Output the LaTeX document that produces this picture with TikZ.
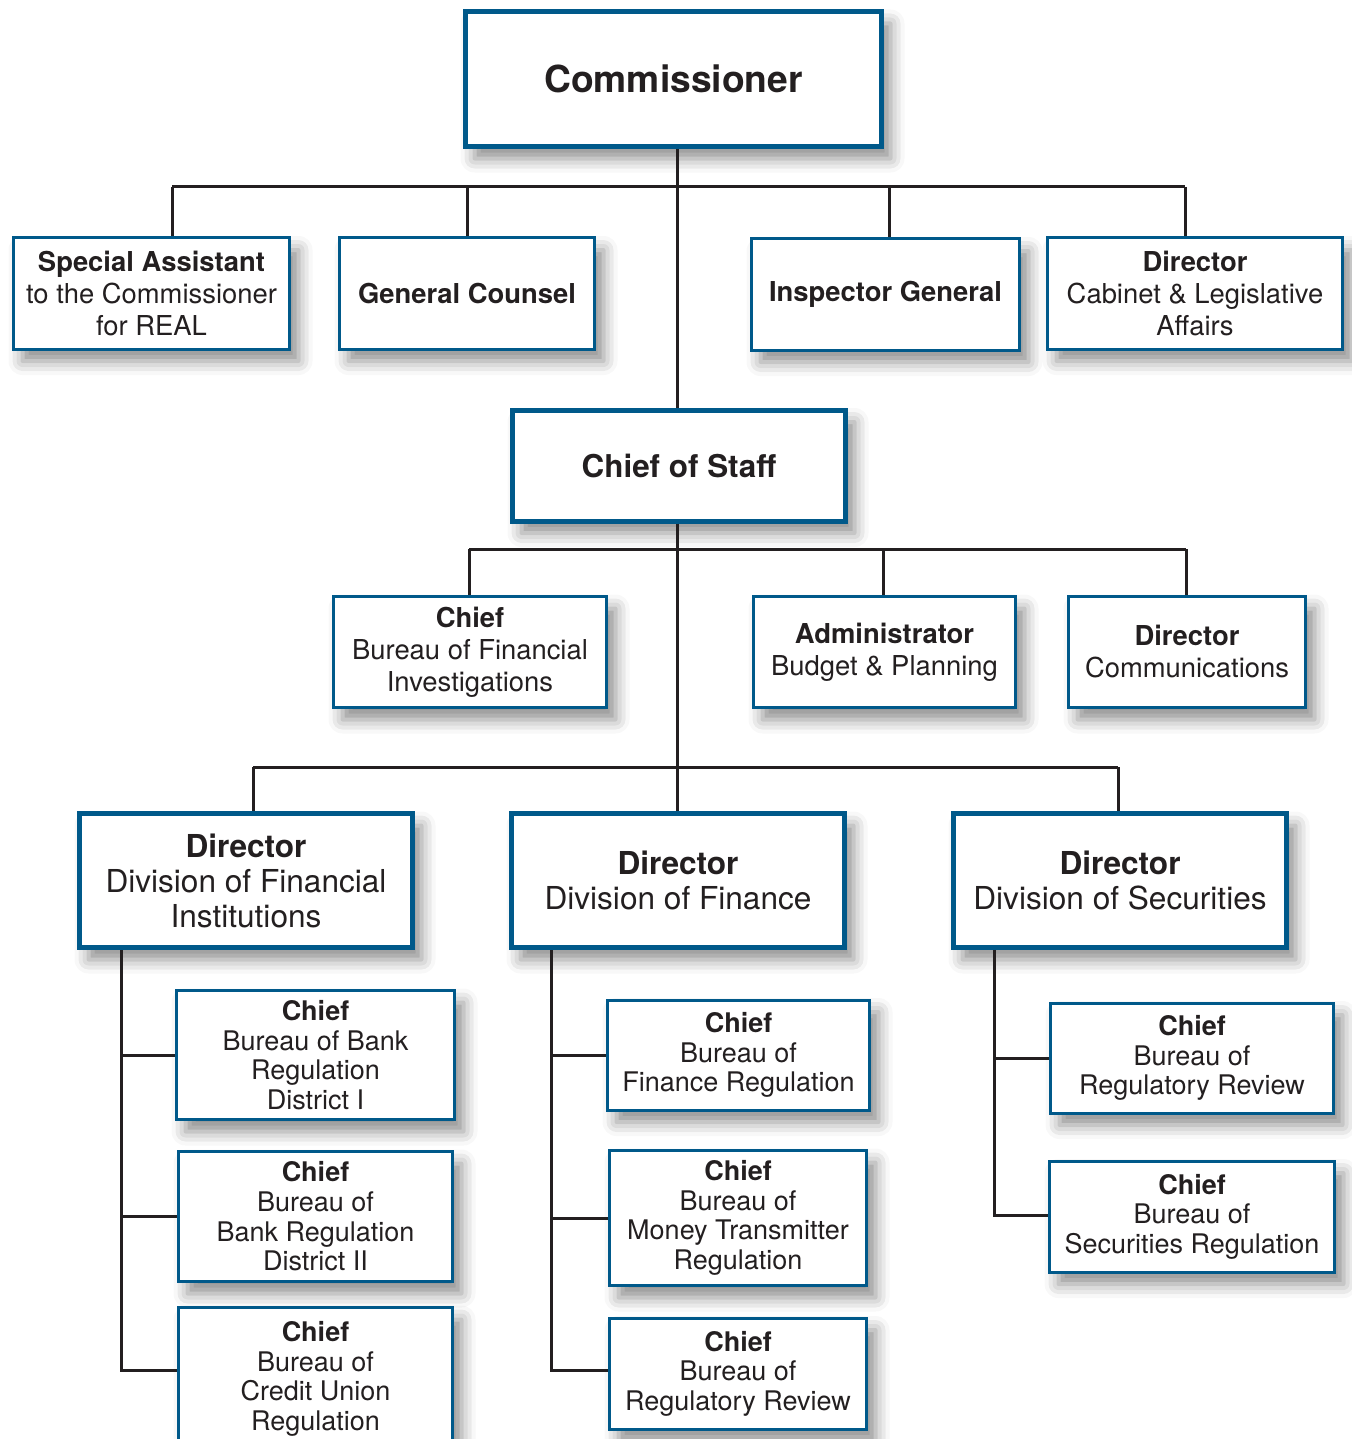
\documentclass[tikz,border=0pt]{standalone}
\usepackage{fontspec}
\setmainfont{TeX Gyre Heros}
\usetikzlibrary{shadows.blur}
\definecolor{orgblue}{HTML}{00598A}
\definecolor{orgink}{HTML}{231F20}
\newcommand{\topfont}{\fontsize{18.6}{22}\selectfont\bfseries}
\newcommand{\stafffont}{\fontsize{15.7}{19}\selectfont\bfseries}
\newcommand{\divfont}{\fontsize{15.8}{17.5}\selectfont}
\newcommand{\unitfont}{\fontsize{13.7}{16}\selectfont}
\newcommand{\subfont}{\fontsize{13.5}{14.8}\selectfont}
\begin{document}
\begin{tikzpicture}[x=0.5pt,y=-0.5pt,
  orgbox/.style={draw=orgblue, line width=1.5pt, fill=white, text=orgink,
    align=center, inner sep=0pt,
    blur shadow={shadow xshift=4.5pt, shadow yshift=-6pt, shadow blur radius=7pt, shadow opacity=45}},
  headbox/.style={orgbox, line width=2.5pt},
  link/.style={draw=orgink, line width=1.5pt}]
\useasboundingbox (0,0) rectangle (1352,1439);

% top level
\node[headbox, minimum width=208pt, minimum height=67.5pt, font=\topfont] (com) at (673.5,79) {Commissioner};
\node[orgbox, minimum width=138pt, minimum height=55.5pt, font=\unitfont] (spa) at (151.5,293.5) {\textbf{Special Assistant}\\to the Commissioner\\for REAL};
\node[orgbox, minimum width=127.5pt, minimum height=55.5pt, font=\unitfont] (gc) at (467,293.5) {\textbf{General Counsel}};
\node[orgbox, minimum width=134pt, minimum height=55.5pt, font=\unitfont] (ig) at (885.5,294.5) {\textbf{Inspector General}};
\node[orgbox, minimum width=147.5pt, minimum height=55.5pt, font=\unitfont] (dcl) at (1195,293.5) {\textbf{Director}\\Cabinet \& Legislative\\Affairs};

% chief of staff
\node[headbox, minimum width=166.5pt, minimum height=55.5pt, font=\stafffont] (cos) at (679,465.5) {Chief of Staff};
\node[orgbox, minimum width=136.5pt, minimum height=55.5pt, font=\unitfont] (bfi) at (470,652) {\textbf{Chief}\\Bureau of Financial\\Investigations};
\node[orgbox, minimum width=131pt, minimum height=55.5pt, font=\unitfont] (abp) at (884.5,652) {\textbf{Administrator}\\Budget \& Planning};
\node[orgbox, minimum width=118.5pt, minimum height=55.5pt, font=\unitfont] (dcm) at (1187,652) {\textbf{Director}\\Communications};

% divisions
\node[headbox, minimum width=166.5pt, minimum height=67pt, font=\divfont] (dfi) at (246,880.5) {\textbf{Director}\\Division of Financial\\Institutions};
\node[headbox, minimum width=166.5pt, minimum height=67pt, font=\divfont] (dfn) at (678,880.5) {\textbf{Director}\\Division of Finance};
\node[headbox, minimum width=166.5pt, minimum height=67pt, font=\divfont] (dsc) at (1120,880.5) {\textbf{Director}\\Division of Securities};

% bureaus
\node[orgbox, minimum width=139pt, minimum height=64.5pt, font=\subfont] (bb1) at (315.5,1055) {\textbf{Chief}\\Bureau of Bank\\Regulation\\District I};
\node[orgbox, minimum width=137pt, minimum height=65pt, font=\subfont] (bb2) at (315.5,1216.5) {\textbf{Chief}\\Bureau of\\Bank Regulation\\District II};
\node[orgbox, minimum width=137pt, minimum height=71.5pt, font=\subfont] (bcu) at (315.5,1379) {\textbf{Chief}\\Bureau of\\Credit Union\\Regulation};
\node[orgbox, minimum width=131pt, minimum height=55pt, font=\subfont] (bfr) at (738.5,1055) {\textbf{Chief}\\Bureau of\\Finance Regulation};
\node[orgbox, minimum width=128.5pt, minimum height=67.5pt, font=\subfont] (bmt) at (738,1218) {\textbf{Chief}\\Bureau of\\Money Transmitter\\Regulation};
\node[orgbox, minimum width=128.5pt, minimum height=55.5pt, font=\subfont] (brr) at (738,1373.5) {\textbf{Chief}\\Bureau of\\Regulatory Review};
\node[orgbox, minimum width=141.5pt, minimum height=55pt, font=\subfont] (srr) at (1192,1058) {\textbf{Chief}\\Bureau of\\Regulatory Review};
\node[orgbox, minimum width=142.5pt, minimum height=55.5pt, font=\subfont] (ssr) at (1192,1216.5) {\textbf{Chief}\\Bureau of\\Securities Regulation};

% trunk and buses
\coordinate (trunk) at (677,0);
\draw[link] (trunk |- com.south) -- (trunk |- cos.north);
\draw[link] (trunk |- cos.south) -- (trunk |- dfn.north);
\coordinate (busaw) at (172,187);
\coordinate (busae) at (1185,187);
\coordinate (busai) at (889,187);
\draw[link] (busaw) -- (busae);
\draw[link] (busaw) -- (busaw |- spa.north);
\draw[link] (gc.north) -- (gc.north |- busaw);
\draw[link] (busai) -- (busai |- ig.north);
\draw[link] (busae) -- (busae |- dcl.north);
\coordinate (busbw) at (469,549);
\coordinate (busbe) at (1186,549);
\coordinate (busbi) at (883,549);
\draw[link] (busbw) -- (busbe);
\draw[link] (busbw) -- (busbw |- bfi.north);
\draw[link] (busbi) -- (busbi |- abp.north);
\draw[link] (busbe) -- (busbe |- dcm.north);
\coordinate (buscw) at (253,767);
\coordinate (busce) at (1118,767);
\draw[link] (buscw) -- (busce);
\draw[link] (buscw) -- (buscw |- dfi.north);
\draw[link] (busce) -- (busce |- dsc.north);

% spines
\coordinate (spfi) at (121,1370);
\draw[link] (spfi |- dfi.south) -- (spfi) -- (spfi -| bcu.west);
\draw[link] (spfi |- bb1.west) -- (bb1.west);
\draw[link] (spfi |- bb2.west) -- (bb2.west);
\coordinate (spfn) at (551,1370);
\draw[link] (spfn |- dfn.south) -- (spfn) -- (spfn -| brr.west);
\draw[link] (spfn |- bfr.west) -- (bfr.west);
\draw[link] (spfn |- bmt.west) -- (bmt.west);
\coordinate (spsc) at (994,1215);
\draw[link] (spsc |- dsc.south) -- (spsc) -- (spsc -| ssr.west);
\draw[link] (spsc |- srr.west) -- (srr.west);
\end{tikzpicture}
\end{document}
